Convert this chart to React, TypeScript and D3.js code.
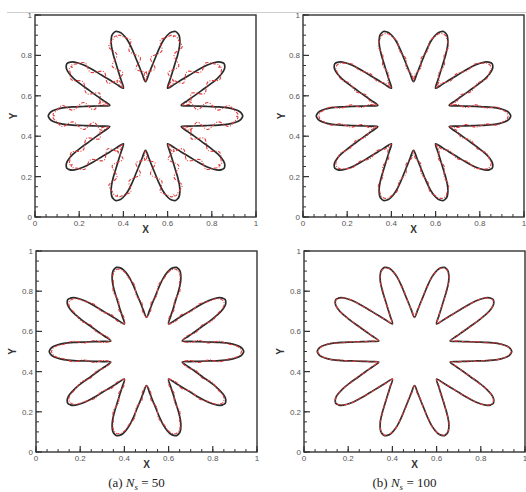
import * as d3 from 'd3'

// --- data ---
const tickValues = [0, 0.2, 0.4, 0.6, 0.8, 1]
const tickLabels = ['0', '0.2', '0.4', '0.6', '0.8', '1']

// one half petal, from tip (0 deg off the petal axis) to the notch (18 deg)
const petalCount = 10
const petalAngle = [0, 1.58, 2.96, 4.52, 6.09, 7.77, 9.53, 11.78, 14.04, 18]
const petalRadius = [0.44, 0.435, 0.426, 0.406, 0.377, 0.333, 0.284, 0.24, 0.206, 0.17]

// red dashed curve: offset from the black one along the outward normal,
// 18 values per petal (notch, lower side, tip, upper side)
const devA1 = [0.004, 0.02, -0.018, 0.02, -0.016, 0.012, -0.006, -0.014, -0.024, -0.03, -0.024, -0.014, -0.006, 0.012, -0.016, 0.02, -0.018, 0.02]
const devB1 = [0.002, 0.007, -0.007, 0.008, -0.006, 0.005, -0.003, -0.006, -0.01, -0.012, -0.01, -0.006, -0.003, 0.005, -0.006, 0.008, -0.007, 0.007]
const devA2 = [0.001, -0.005, 0.006, -0.005, 0.006, -0.004, -0.003, -0.006, -0.009, -0.01, -0.009, -0.006, -0.003, -0.004, 0.006, -0.005, 0.006, -0.005]
const devB2 = [0, 0.002, -0.002, 0.002, -0.002, 0.001, 0, -0.001, -0.002, -0.002, -0.002, -0.001, 0, 0.001, -0.002, 0.002, -0.002, 0.002]

const captions = [
  { tag: '(a)', n: '50' },
  { tag: '(b)', n: '100' },
]

const W = 526
const H = 492

const panels = [
  { id: 'a1', left: 35, top: 15, right: 256, bottom: 217, yLab: 13, dev: devA1 },
  { id: 'b1', left: 303, top: 15, right: 524, bottom: 217, yLab: 281, dev: devB1 },
  { id: 'a2', left: 36, top: 251, right: 257, bottom: 452, yLab: 12, dev: devA2 },
  { id: 'b2', left: 304, top: 251, right: 525, bottom: 452, yLab: 280, dev: devB2 },
]

type Pt = { x: number; y: number }

// build the flower contour from the half petal profile
const buildContour = (): Pt[] => {
  const pts: Pt[] = []
  const n = petalAngle.length
  for (let k = 0; k < petalCount; k++) {
    const axis = (360 / petalCount) * k
    const seq: [number, number][] = []
    for (let i = n - 1; i >= 1; i--) seq.push([axis - petalAngle[i], petalRadius[i]])
    seq.push([axis, petalRadius[0]])
    for (let i = 1; i < n - 1; i++) seq.push([axis + petalAngle[i], petalRadius[i]])
    seq.forEach(([a, r]) => {
      const t = (a * Math.PI) / 180
      pts.push({ x: 0.5 + r * Math.cos(t), y: 0.5 + r * Math.sin(t) })
    })
  }
  return pts
}

const contour = buildContour()

const offsetContour = (pts: Pt[], dev: number[]): Pt[] => {
  const m = pts.length
  return pts.map((p, i) => {
    const a = pts[(i - 1 + m) % m]
    const b = pts[(i + 1) % m]
    const tx = b.x - a.x
    const ty = b.y - a.y
    const len = Math.hypot(tx, ty) || 1
    const d = dev[i % dev.length]
    return { x: p.x + (ty / len) * d, y: p.y + (-tx / len) * d }
  })
}

const font = "'Liberation Sans', Arial, sans-serif"

const Panel = ({ p }: { p: (typeof panels)[number] }) => {
  const x = d3.scaleLinear().domain([0, 1]).range([p.left, p.right])
  const y = d3.scaleLinear().domain([0, 1]).range([p.bottom, p.top])
  const line = d3
    .line<Pt>()
    .x((d) => x(d.x))
    .y((d) => y(d.y))
    .curve(d3.curveCatmullRomClosed.alpha(0.5))
  const red = offsetContour(contour, p.dev)
  const minor = x.ticks(20)
  const cx = (p.left + p.right) / 2
  const cy = (p.top + p.bottom) / 2
  return (
    <g>
      <path d={line(contour) || ''} fill="none" stroke="#2b2b2b" strokeWidth={1.7} />
      <path d={line(red) || ''} fill="none" stroke="#e23b3b" strokeWidth={1.1} strokeDasharray="3.5 1.5 1 1.5" />
      {minor.map((t) => (
        <g key={'m' + t}>
          <line x1={x(t)} x2={x(t)} y1={p.bottom} y2={p.bottom - 3} stroke="#333" strokeWidth={1} />
          <line x1={p.left} x2={p.left + 3} y1={y(t)} y2={y(t)} stroke="#333" strokeWidth={1} />
        </g>
      ))}
      {tickValues.map((t, i) => (
        <g key={'t' + t}>
          <line x1={x(t)} x2={x(t)} y1={p.bottom} y2={p.bottom - 6} stroke="#333" strokeWidth={1.2} />
          <line x1={p.left} x2={p.left + 6} y1={y(t)} y2={y(t)} stroke="#333" strokeWidth={1.2} />
          <text x={x(t)} y={p.bottom + 8.5} fontSize={8} fill="#555" textAnchor="middle" fontFamily={font}>
            {tickLabels[i]}
          </text>
          <text x={p.left - 3} y={y(t) + 3} fontSize={8} fill="#555" textAnchor="end" fontFamily={font}>
            {tickLabels[i]}
          </text>
        </g>
      ))}
      <rect x={p.left} y={p.top} width={p.right - p.left} height={p.bottom - p.top} fill="none" stroke="#333" strokeWidth={1.4} />
      <text x={cx} y={p.bottom + 16} fontSize={10} fontWeight="bold" fill="#333" textAnchor="middle" fontFamily={font}>
        X
      </text>
      <text
        transform={`translate(${p.yLab + 3.5},${cy}) rotate(-90)`}
        fontSize={10}
        fontWeight="bold"
        fill="#333"
        textAnchor="middle"
        fontFamily={font}
      >
        Y
      </text>
    </g>
  )
}

export default function App() {
  return (
    <svg width={W} height={H} style={{ display: 'block', position: 'absolute', left: 0, top: 0 }}>
      <rect width={W} height={H} fill="#fff" />
      <line x1={7} x2={W} y1={12.5} y2={12.5} stroke="#cfcfcf" strokeWidth={1} />
      {panels.map((p) => (
        <Panel key={p.id} p={p} />
      ))}
      {captions.map((c, i) => (
        <text
          key={c.tag}
          x={(panels[i + 2].left + panels[i + 2].right) / 2 - 10}
          y={487}
          fontSize={13}
          fill="#222"
          textAnchor="middle"
          fontFamily="'Liberation Serif', 'Times New Roman', serif"
        >
          {c.tag}{'  '}
          <tspan fontStyle="italic">N</tspan>
          <tspan fontStyle="italic" fontSize={9} dy={2.5}>
            s
          </tspan>
          <tspan dy={-2.5}>{' = '}{c.n}</tspan>
        </text>
      ))}
    </svg>
  )
}
